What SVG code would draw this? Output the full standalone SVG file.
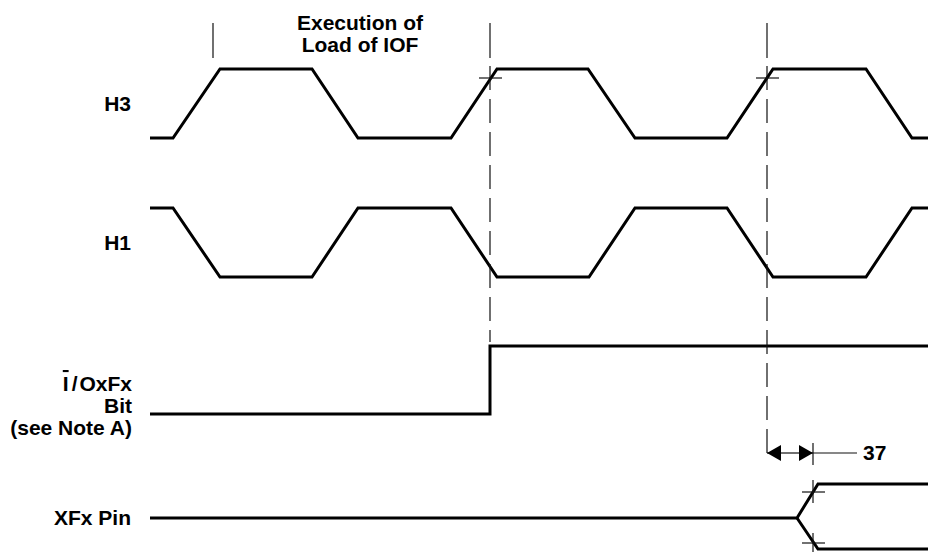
<svg xmlns="http://www.w3.org/2000/svg" width="928" height="552" viewBox="0 0 928 552">
<style>
.lbl{font-family:"Liberation Sans",Arial,sans-serif;font-weight:bold;font-size:21px;fill:#000}
.wave{fill:none;stroke:#000;stroke-width:3;stroke-linejoin:miter}
.thin{fill:none;stroke:#111;stroke-width:1.2}
.dash{fill:none;stroke:#111;stroke-width:1.2;stroke-dasharray:24 9}
</style>
<defs>
<marker id="ah" viewBox="0 0 14 16" refX="14" refY="8" markerWidth="14" markerHeight="16" markerUnits="userSpaceOnUse" orient="auto-start-reverse">
<path d="M0,0 L14,8 L0,16 Z" fill="#000"/>
</marker>
</defs>
<rect width="928" height="552" fill="#fff"/>
<g id="labels">
<text class="lbl" x="360" y="30" text-anchor="middle">Execution of</text>
<text class="lbl" x="360" y="52" text-anchor="middle">Load of IOF</text>
</g>
<g id="H3">
<text class="lbl" x="131" y="111" text-anchor="end">H3</text>
<path class="wave" d="M150,138 L173,138 L220,69 L312,69 L358,138 L451,138 L497,69 L588,69 L635,138 L727,138 L773,69 L866,69 L912,138 L928,138"/>
</g>
<g id="H1">
<text class="lbl" x="131" y="250" text-anchor="end">H1</text>
<path class="wave" d="M150,208 L173,208 L220,277 L312,277 L358,208 L451,208 L497,277 L589,277 L635,208 L727,208 L773,277 L866,277 L912,208 L928,208"/>
</g>
<g id="IOFx">
<text class="lbl" x="132" y="391" text-anchor="end"><tspan style="text-decoration:overline">I</tspan><tspan dx="3">/</tspan><tspan dx="2">OxFx</tspan></text>
<text class="lbl" x="132" y="413" text-anchor="end">Bit</text>
<text class="lbl" x="132" y="435" text-anchor="end">(see Note A)</text>
<path class="wave" d="M150,414 L490,414 L490,346 L928,346"/>
</g>
<g id="XFx">
<text class="lbl" x="131" y="525" text-anchor="end">XFx Pin</text>
<path class="wave" d="M150,518 L797,518 L818,484 L928,484"/>
<path class="wave" d="M797,518 L818,549 L928,549"/>
</g>
<g id="connectors">
<line class="thin" x1="213" y1="23" x2="213" y2="58"/>
<line class="thin" x1="490" y1="23" x2="490" y2="58"/>
<line class="dash" x1="490" y1="66" x2="490" y2="342"/>
<line class="thin" x1="767" y1="23" x2="767" y2="58"/>
<line class="dash" x1="767" y1="66" x2="767" y2="460"/>
<line class="thin" x1="479" y1="78" x2="502" y2="78"/>
<line class="thin" x1="756" y1="78" x2="779" y2="78"/>
<line class="thin" x1="813" y1="443" x2="813" y2="465"/>
<line class="thin" x1="813" y1="480" x2="813" y2="503"/>
<line class="thin" x1="813" y1="533" x2="813" y2="552"/>
<line class="thin" x1="802" y1="492" x2="825" y2="492"/>
<line class="thin" x1="802" y1="543" x2="825" y2="543"/>
<line class="thin" x1="790" y1="453" x2="767" y2="453" marker-end="url(#ah)"/>
<line class="thin" x1="790" y1="453" x2="813" y2="453" marker-end="url(#ah)"/>
<line class="thin" x1="813" y1="453" x2="857" y2="453"/>
<text class="lbl" x="863" y="460">37</text>
</g>
</svg>
